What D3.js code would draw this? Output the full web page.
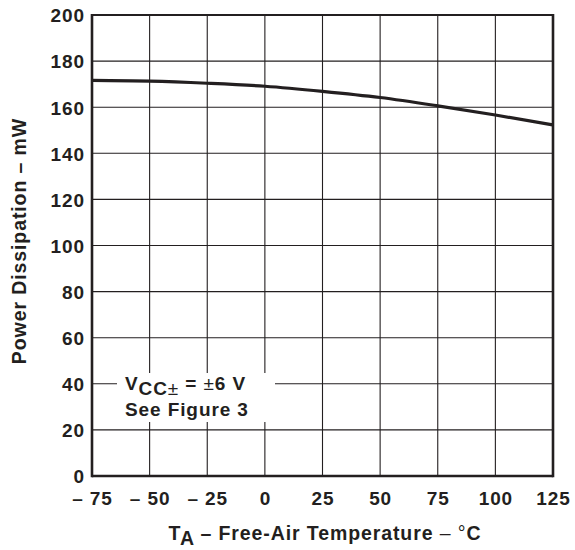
<!DOCTYPE html>
<html>
<head>
<meta charset="utf-8">
<script src="https://cdn.jsdelivr.net/npm/d3@7"></script>
<style>
  body { margin: 0; background: #fff; }
  svg { display: block; }
  text { font-family: "Liberation Sans", Arial, sans-serif; font-weight: bold; fill: #231f20; letter-spacing: 0.9px; }
</style>
</head>
<body>
<svg id="chart" width="575" height="550"></svg>
<script>
// Data
const temperatures = [-75, -50, -25, 0, 25, 50, 75, 100, 125];
const powerMW = [171.6, 171.3, 170.4, 169.1, 166.9, 164.2, 160.6, 156.6, 152.3];
const xTicks = [-75, -50, -25, 0, 25, 50, 75, 100, 125];
const xTickLabels = ["\u2013 75", "\u2013 50", "\u2013 25", "0", "25", "50", "75", "100", "125"];
const yTicks = [0, 20, 40, 60, 80, 100, 120, 140, 160, 180, 200];

const svg = d3.select("#chart");
const L = 92, R = 553, T = 15, B = 476;
const ink = "#231f20";
const FS = 19;

const x = d3.scaleLinear().domain([-75, 125]).range([L, R]);
const y = d3.scaleLinear().domain([0, 200]).range([B, T]);

// grid
const grid = svg.append("g");
grid.selectAll("line.v").data(xTicks).enter().append("line")
  .attr("x1", d => x(d)).attr("x2", d => x(d)).attr("y1", T).attr("y2", B)
  .attr("stroke", ink).attr("stroke-width", 1.1);
grid.selectAll("line.h").data(yTicks).enter().append("line")
  .attr("x1", L).attr("x2", R).attr("y1", d => y(d)).attr("y2", d => y(d))
  .attr("stroke", ink).attr("stroke-width", 1.1);

// annotation box (white background)
svg.append("rect").attr("x", 117).attr("y", 373).attr("width", 158).attr("height", 49).attr("fill", "#fff");

// curve
const line = d3.line().x((d, i) => x(temperatures[i])).y(d => y(d)).curve(d3.curveMonotoneX);
svg.append("path").datum(powerMW).attr("d", line)
  .attr("fill", "none").attr("stroke", ink).attr("stroke-width", 3.2);

// frame
svg.append("line").attr("x1", L).attr("x2", R).attr("y1", T).attr("y2", T).attr("stroke", ink).attr("stroke-width", 2);
svg.append("line").attr("x1", L).attr("x2", L).attr("y1", T - 1).attr("y2", B + 1.3).attr("stroke", ink).attr("stroke-width", 2.6);
svg.append("line").attr("x1", R).attr("x2", R).attr("y1", T - 1).attr("y2", B + 1.3).attr("stroke", ink).attr("stroke-width", 2.6);
svg.append("line").attr("x1", L).attr("x2", R).attr("y1", B).attr("y2", B).attr("stroke", ink).attr("stroke-width", 2.6);

// axes via d3 (tick labels only)
const xAxis = d3.axisBottom(x).tickValues(xTicks).tickSize(0).tickPadding(0)
  .tickFormat((d, i) => xTickLabels[i]);
const gx = svg.append("g").attr("transform", `translate(0,${B})`).call(xAxis);
gx.select(".domain").remove();
gx.selectAll("text").attr("font-size", FS).attr("dy", null).attr("y", 29)
  .style("font-family", '"Liberation Sans", Arial, sans-serif').style("font-weight", "bold").attr("fill", ink);

const yAxis = d3.axisLeft(y).tickValues(yTicks).tickSize(0).tickPadding(7);
const gy = svg.append("g").attr("transform", `translate(${L},0)`).call(yAxis);
gy.select(".domain").remove();
gy.selectAll("text").attr("font-size", FS).attr("dy", "0.36em")
  .style("font-family", '"Liberation Sans", Arial, sans-serif').style("font-weight", "bold").attr("fill", ink);

// annotation text
const a1 = svg.append("text").attr("x", 125).attr("y", 390).attr("font-size", FS);
a1.append("tspan").text("V");
a1.append("tspan").attr("dy", 5).text("CC");
a1.append("tspan").style("font-weight", "normal").text("\u00b1");
a1.append("tspan").attr("dy", -5).text(" = ");
a1.append("tspan").style("font-weight", "normal").text("\u00b1");
a1.append("tspan").text("6 V");
svg.append("text").attr("x", 125).attr("y", 416).attr("font-size", FS).text("See Figure 3");

// y title
svg.append("text").attr("transform", "translate(26,241) rotate(-90)")
  .attr("text-anchor", "middle").attr("font-size", 19.5).text("Power Dissipation \u2013 mW");

// x title
const xt = svg.append("text").attr("x", 325).attr("y", 540).attr("text-anchor", "middle").attr("font-size", 19.5);
xt.append("tspan").text("T");
xt.append("tspan").attr("dy", 5).text("A");
xt.append("tspan").attr("dy", -5).text(" \u2013 Free-Air Temperature ");
xt.append("tspan").style("font-weight", "normal").text("\u2013 \u00b0");
xt.append("tspan").text("C");
</script>
</body>
</html>
